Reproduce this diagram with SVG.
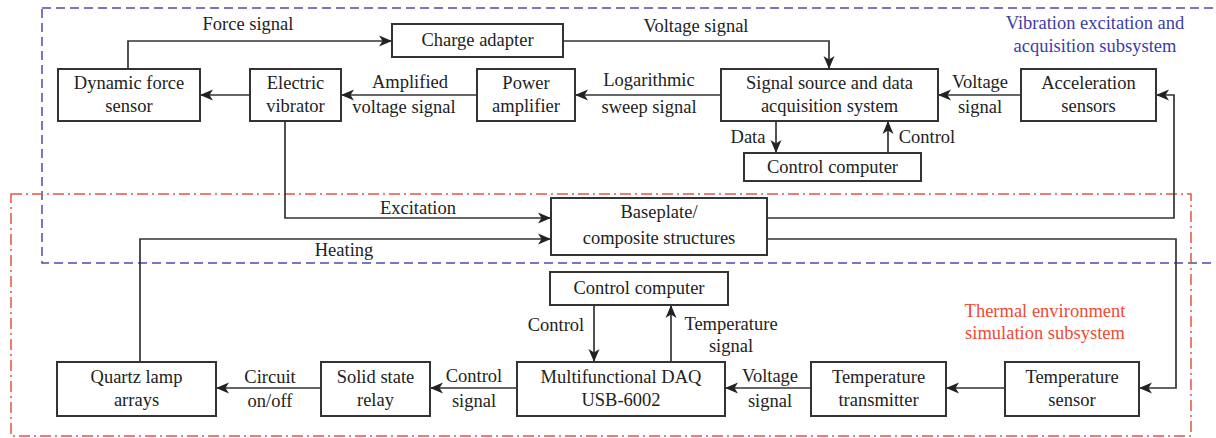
<svg xmlns="http://www.w3.org/2000/svg" width="1216" height="438" viewBox="0 0 1216 438">
  <style>
    .box { fill: #ffffff; stroke: #333333; stroke-width: 2; }
    .wire { fill: none; stroke: #333333; stroke-width: 1.7; }
    .t { font-family: "Liberation Serif", "Times New Roman", serif; font-size: 18.5px; fill: #222222; text-anchor: middle; }
    .blue { fill: #3c3ca8; }
    .red { fill: #ee4a36; }
    .zone-vib { fill: none; stroke: #4c4cae; stroke-width: 1.5; stroke-dasharray: 9 5; }
    .zone-th { fill: none; stroke: #e8533e; stroke-width: 1.5; stroke-dasharray: 11 4 2 4; }
  </style>
  <defs>
    <marker id="arr" markerUnits="userSpaceOnUse" markerWidth="14" markerHeight="12" viewBox="0 0 14 12" refX="13" refY="6" orient="auto">
      <path d="M0,0.5 L13,6 L0,11.5 L3.5,6 z" fill="#222222"/>
    </marker>
  </defs>
  <rect width="1216" height="438" fill="#ffffff"/>

  <!-- subsystem outlines -->
  <g id="subsystems">
    <rect class="zone-vib" x="42" y="8" width="1185" height="255"/>
    <rect class="zone-th" x="11" y="194" width="1180" height="242"/>
    <text class="t blue" x="1095" y="29">Vibration excitation and</text>
    <text class="t blue" x="1095" y="52">acquisition subsystem</text>
    <text class="t red" x="1045" y="317">Thermal environment</text>
    <text class="t red" x="1045" y="339">simulation subsystem</text>
  </g>

  <!-- connectors -->
  <g id="connectors">
    <polyline class="wire" points="128,69 128,41 392,41" marker-end="url(#arr)"/>
    <polyline class="wire" points="563,41 829,41 829,69" marker-end="url(#arr)"/>
    <line class="wire" x1="250" y1="95" x2="200" y2="95" marker-end="url(#arr)"/>
    <line class="wire" x1="477" y1="95" x2="341" y2="95" marker-end="url(#arr)"/>
    <line class="wire" x1="721" y1="95" x2="575" y2="95" marker-end="url(#arr)"/>
    <line class="wire" x1="1021" y1="95" x2="938" y2="95" marker-end="url(#arr)"/>
    <line class="wire" x1="776" y1="121" x2="776" y2="153" marker-end="url(#arr)"/>
    <line class="wire" x1="888" y1="153" x2="888" y2="121" marker-end="url(#arr)"/>
    <polyline class="wire" points="285,121 285,218 551,218" marker-end="url(#arr)"/>
    <polyline class="wire" points="140,362 140,239 551,239" marker-end="url(#arr)"/>
    <polyline class="wire" points="767,218 1174,218 1174,95 1156,95" marker-end="url(#arr)"/>
    <polyline class="wire" points="767,239 1176,239 1176,388 1139,388" marker-end="url(#arr)"/>
    <line class="wire" x1="594" y1="305" x2="594" y2="362" marker-end="url(#arr)"/>
    <line class="wire" x1="671" y1="362" x2="671" y2="305" marker-end="url(#arr)"/>
    <line class="wire" x1="1005" y1="388" x2="946" y2="388" marker-end="url(#arr)"/>
    <line class="wire" x1="811" y1="388" x2="725" y2="388" marker-end="url(#arr)"/>
    <line class="wire" x1="517" y1="388" x2="430" y2="388" marker-end="url(#arr)"/>
    <line class="wire" x1="321" y1="388" x2="216" y2="388" marker-end="url(#arr)"/>

    <text class="t" x="248" y="30">Force signal</text>
    <text class="t" x="696" y="32">Voltage signal</text>
    <text class="t" x="410" y="88">Amplified</text>
    <text class="t" x="404" y="113">voltage signal</text>
    <text class="t" x="649" y="86">Logarithmic</text>
    <text class="t" x="649" y="113">sweep signal</text>
    <text class="t" x="980" y="88">Voltage</text>
    <text class="t" x="980" y="113">signal</text>
    <text class="t" x="748" y="143">Data</text>
    <text class="t" x="927" y="143">Control</text>
    <text class="t" x="418" y="214">Excitation</text>
    <text class="t" x="344" y="256">Heating</text>
    <text class="t" x="556" y="331">Control</text>
    <text class="t" x="731" y="330">Temperature</text>
    <text class="t" x="731" y="352">signal</text>
    <text class="t" x="770" y="382">Voltage</text>
    <text class="t" x="770" y="407">signal</text>
    <text class="t" x="474" y="382">Control</text>
    <text class="t" x="474" y="407">signal</text>
    <text class="t" x="270" y="383">Circuit</text>
    <text class="t" x="270" y="407">on/off</text>
  </g>

  <!-- vibration excitation nodes -->
  <g id="charge-adapter">
    <rect class="box" x="392" y="24" width="171" height="33"/>
    <text class="t" x="477.5" y="46">Charge adapter</text>
  </g>
  <g id="dynamic-force-sensor">
    <rect class="box" x="58" y="69" width="142" height="52"/>
    <text class="t" x="129" y="89">Dynamic force</text>
    <text class="t" x="129" y="112">sensor</text>
  </g>
  <g id="electric-vibrator">
    <rect class="box" x="250" y="69" width="91" height="52"/>
    <text class="t" x="295.5" y="89">Electric</text>
    <text class="t" x="295.5" y="112">vibrator</text>
  </g>
  <g id="power-amplifier">
    <rect class="box" x="477" y="69" width="98" height="52"/>
    <text class="t" x="526" y="89">Power</text>
    <text class="t" x="526" y="112">amplifier</text>
  </g>
  <g id="signal-source">
    <rect class="box" x="721" y="69" width="217" height="52"/>
    <text class="t" x="829.5" y="89">Signal source and data</text>
    <text class="t" x="829.5" y="112">acquisition system</text>
  </g>
  <g id="acceleration-sensors">
    <rect class="box" x="1021" y="69" width="135" height="52"/>
    <text class="t" x="1088.5" y="89">Acceleration</text>
    <text class="t" x="1088.5" y="112">sensors</text>
  </g>
  <g id="control-computer-vib">
    <rect class="box" x="744" y="153" width="177" height="28"/>
    <text class="t" x="832.5" y="173">Control computer</text>
  </g>

  <!-- shared specimen -->
  <g id="baseplate">
    <rect class="box" x="551" y="198" width="216" height="57"/>
    <text class="t" x="659" y="218">Baseplate/</text>
    <text class="t" x="659" y="244">composite structures</text>
  </g>

  <!-- thermal environment nodes -->
  <g id="control-computer-th">
    <rect class="box" x="550" y="272" width="178" height="33"/>
    <text class="t" x="639" y="294">Control computer</text>
  </g>
  <g id="quartz-lamp">
    <rect class="box" x="57" y="362" width="159" height="54"/>
    <text class="t" x="136.5" y="383">Quartz lamp</text>
    <text class="t" x="136.5" y="406">arrays</text>
  </g>
  <g id="solid-state-relay">
    <rect class="box" x="321" y="362" width="109" height="54"/>
    <text class="t" x="375.5" y="383">Solid state</text>
    <text class="t" x="375.5" y="406">relay</text>
  </g>
  <g id="daq">
    <rect class="box" x="517" y="362" width="208" height="54"/>
    <text class="t" x="621" y="383">Multifunctional DAQ</text>
    <text class="t" x="621" y="406">USB-6002</text>
  </g>
  <g id="temperature-transmitter">
    <rect class="box" x="811" y="362" width="135" height="54"/>
    <text class="t" x="878.5" y="383">Temperature</text>
    <text class="t" x="878.5" y="406">transmitter</text>
  </g>
  <g id="temperature-sensor">
    <rect class="box" x="1005" y="362" width="134" height="54"/>
    <text class="t" x="1072" y="383">Temperature</text>
    <text class="t" x="1072" y="406">sensor</text>
  </g>
</svg>
